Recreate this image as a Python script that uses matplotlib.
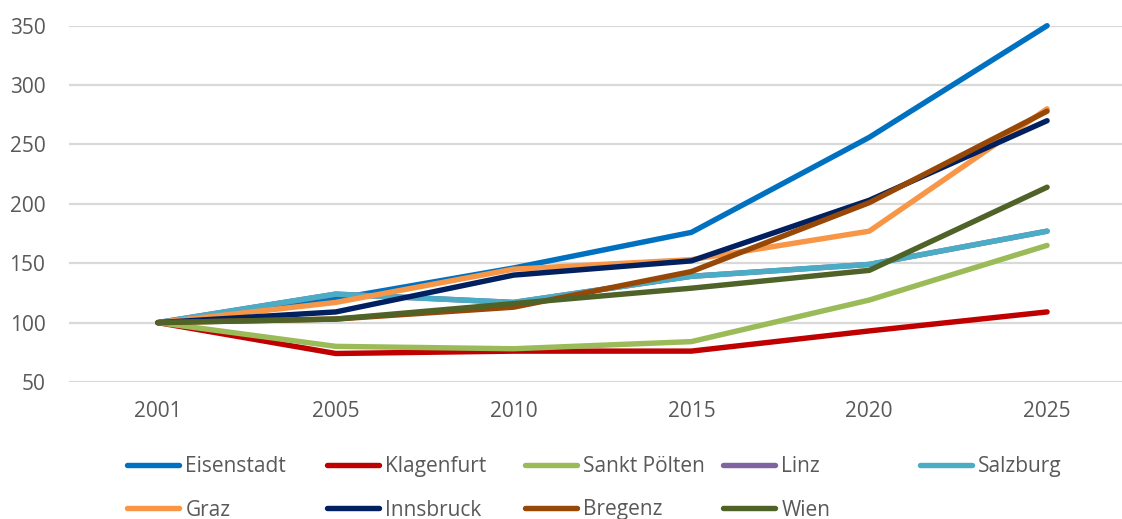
import matplotlib
matplotlib.use("Agg")
import matplotlib.pyplot as plt
from matplotlib.lines import Line2D

plt.rcParams['font.family'] = ['Open Sans', 'DejaVu Sans']

years = ["2001", "2005", "2010", "2015", "2020", "2025"]
eisenstadt = [100, 120, 146, 176, 256, 350]
klagenfurt = [100, 74, 76, 76, 93, 109]
sankt_poelten = [100, 80, 78, 84, 119, 165]
linz = [100, 124, 117, 139, 149, 177]
salzburg = [100, 124, 117, 139, 149, 177]
graz = [100, 117, 145, 153, 177, 280]
innsbruck = [100, 109, 140, 152, 203, 270]
bregenz = [100, 103, 113, 143, 201, 278]
wien = [100, 103, 116, 129, 144, 214]

names = ["Eisenstadt", "Klagenfurt", "Sankt Pölten", "Linz", "Salzburg",
         "Graz", "Innsbruck", "Bregenz", "Wien"]
series = [eisenstadt, klagenfurt, sankt_poelten, linz, salzburg,
          graz, innsbruck, bregenz, wien]
colors = ["#0070C0", "#C00000", "#9BBB59", "#8064A2", "#4BACC6",
          "#F79646", "#002060", "#974706", "#4F6228"]

W, H = 1122, 519
fig = plt.figure(figsize=(W / 100, H / 100), dpi=100)
left, right = 69, 1136
top, bottom = 25.7, 382
ax = fig.add_axes([left / W, 1 - bottom / H, (right - left) / W, (bottom - top) / H])

x = list(range(len(years)))
for name, vals, c in zip(names, series, colors):
    ax.plot(x, vals, color=c, lw=3.9, solid_capstyle='round',
            solid_joinstyle='round', clip_on=False, label=name)

ax.set_xlim(-0.5, len(years) - 0.5)
ax.set_ylim(50, 350)
ax.set_yticks([50, 100, 150, 200, 250, 300, 350])
ax.set_xticks(x)
ax.set_xticklabels(years)
ax.grid(axis='y', color='#D9D9D9', lw=1.6)
ax.set_axisbelow(True)
for s in ax.spines.values():
    s.set_visible(False)
ax.tick_params(axis='both', length=0, labelsize=15, labelcolor='#595959')
ax.tick_params(axis='y', pad=17)
ax.tick_params(axis='x', pad=14)

# legend: 5 equally spaced columns, 2 rows
col_x = [127, 327, 525, 723, 920]
handles = [Line2D([], [], color=c, lw=3.9, solid_capstyle='round') for c in colors]
for ci in range(5):
    idx = [i for i in (ci, ci + 5) if i < len(names)]
    leg = fig.legend([handles[i] for i in idx], [names[i] for i in idx],
                     loc='upper left', bbox_to_anchor=(col_x[ci] / W, 1 - 456 / H),
                     frameon=False, fontsize=15, handlelength=2.5,
                     handletextpad=0.3, labelspacing=1.08, borderpad=0,
                     borderaxespad=0, labelcolor='#595959')

fig.savefig("out.png", dpi=100)
